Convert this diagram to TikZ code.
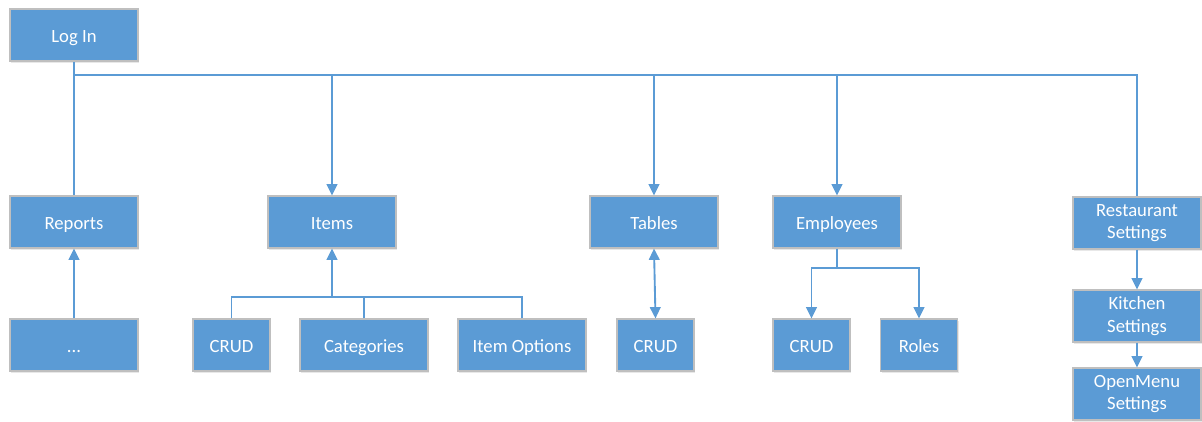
\documentclass[tikz,border=0pt]{standalone}
\usepackage{fontspec}
\setmainfont{Carlito}
\usetikzlibrary{arrows.meta,shadows}
\definecolor{boxblue}{HTML}{5B9BD5}
\definecolor{boxedge}{HTML}{BFBFBF}
\definecolor{linkblue}{HTML}{5B9BD5}
\begin{document}
\begin{tikzpicture}[x=0.75pt,y=-0.75pt,
  basebox/.style={draw=boxedge,line width=0.8pt,fill=boxblue,text=white,
    font=\fontsize{14}{17}\selectfont,align=center,
    minimum width=96pt,minimum height=39pt,inner sep=1pt,
    drop shadow={shadow xshift=1pt,shadow yshift=-1.2pt,opacity=0.18,fill=gray}},
  box/.style={basebox,text height=10.5pt,text depth=0pt},
  twoline/.style={basebox},
  narrow/.style={box,minimum width=57.75pt},
  link/.style={draw=linkblue,line width=1.4pt},
  arrow/.style={link,-{Triangle[width=8pt,length=8.5pt]}},
  twoway/.style={link,{Triangle[width=8pt,length=8.5pt]}-{Triangle[width=8pt,length=8.5pt]}}]
\useasboundingbox (0,0) rectangle (1202,421);

% top level
\node[box] (login) at (74,35) {Log In};

% main sections
\node[box] (reports)   at (74,222)   {Reports};
\node[box] (items)     at (332,222)  {Items};
\node[box] (tables)    at (654,222)  {Tables};
\node[box] (employees) at (837,222)  {Employees};
\node[twoline] (rest)  at (1137,223) {Restaurant\\Settings};

% sub pages
\node[box]    (dots)    at (74,345)    {...};
\node[narrow] (icrud)   at (231.5,345) {CRUD};
\node[box]    (icat)    at (364,345)   {Categories};
\node[box]    (iopt)    at (522,345)   {Item Options};
\node[narrow] (tcrud)   at (655.5,345) {CRUD};
\node[narrow] (ecrud)   at (811.5,345) {CRUD};
\node[narrow] (roles)   at (919,345)   {Roles};
\node[twoline] (kitchen) at (1137,316)  {Kitchen\\Settings};
\node[twoline] (openmenu) at (1137,394) {OpenMenu\\Settings};

% bus from the login page
\coordinate (busL) at (74,75);
\coordinate (ijoin) at (332,297);
\coordinate (ejoin) at (837,268);

\draw[link] (login.south) -- (busL) -| (rest.north);
\draw[link] (busL) -- (reports.north);
\draw[arrow] (items.north |- busL) -- (items.north);
\draw[arrow] (tables.north |- busL) -- (tables.north);
\draw[arrow] (employees.north |- busL) -- (employees.north);

% reports
\draw[arrow] (dots.north) -- (reports.south);

% items
\draw[link] (icrud.north) |- (ijoin);
\draw[link] (icat.north) |- (ijoin);
\draw[link] (iopt.north) |- (ijoin);
\draw[arrow] (ijoin) -- (items.south);

% tables
\draw[twoway] (tables.south) -- (tcrud.north);

% employees
\draw[link] (employees.south) -- (ejoin);
\draw[arrow] (ejoin) -| (ecrud.north);
\draw[arrow] (ejoin) -| (roles.north);

% settings chain
\draw[arrow] (rest.south) -- (kitchen.north);
\draw[arrow] (kitchen.south) -- (openmenu.north);
\end{tikzpicture}
\end{document}
